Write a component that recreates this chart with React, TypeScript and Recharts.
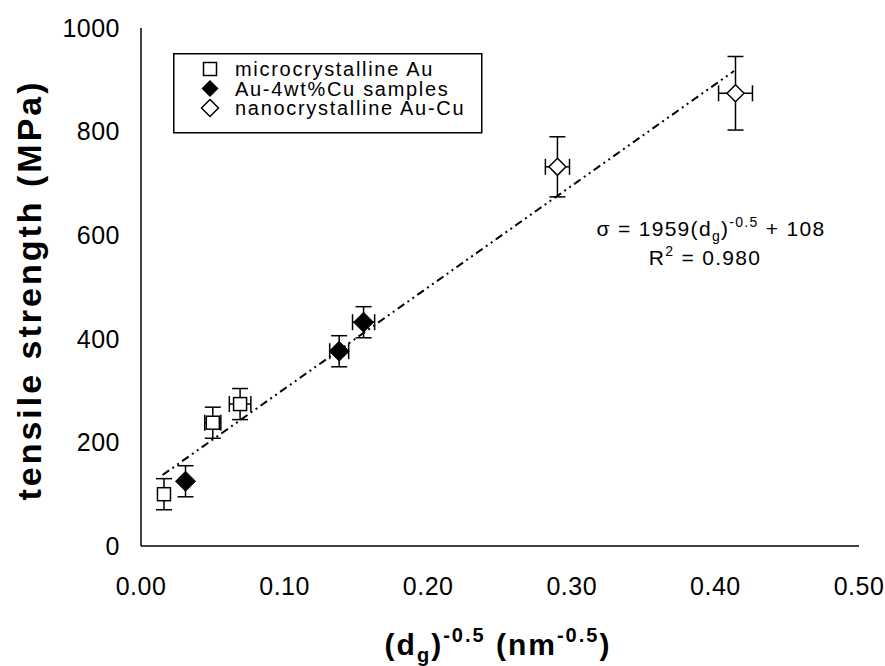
import React from 'react';
import { ScatterChart, Scatter, XAxis, YAxis, ErrorBar, Legend, Customized } from 'recharts';

// tensile strength vs (d_g)^-0.5 ; ex / ey are half-widths of the error bars
const microAu = [
  { x: 0.016, y: 100, ex: 0, ey: 30 },
  { x: 0.05, y: 238, ex: 0.0056, ey: 30 },
  { x: 0.069, y: 274, ex: 0.0075, ey: 30 },
];
const auCuSamples = [
  { x: 0.031, y: 125, ex: 0, ey: 30 },
  { x: 0.138, y: 376, ex: 0.0066, ey: 30 },
  { x: 0.155, y: 432, ex: 0.0077, ey: 30 },
];
const nanoAuCu = [
  { x: 0.29, y: 732, ex: 0.0084, ey: 58 },
  { x: 0.414, y: 874, ex: 0.0118, ey: 71 },
];
// ends of the Hall-Petch fit line as drawn
const fitLine = [
  { x: 0.015, y: 137 },
  { x: 0.413, y: 917 },
];
const seriesNames = ['microcrystalline Au', 'Au-4wt%Cu samples', 'nanocrystalline Au-Cu'];

const xTicks = [0, 0.1, 0.2, 0.3, 0.4, 0.5];
const yTicks = [0, 200, 400, 600, 800, 1000];
const xMinor = Array.from({ length: 26 }, (_, i) => i * 0.02);
const yMinor = Array.from({ length: 51 }, (_, i) => i * 20);

const FONT = '"Liberation Sans", Arial, sans-serif';
const W = 885;
const H = 666;

const SquareMark = (p: any) => (
  <rect x={p.cx - 6.5} y={p.cy - 6.5} width={13} height={13} fill="#fff" stroke="#000" strokeWidth={1.5} />
);
const diamondPath = (cx: number, cy: number, r: number) =>
  `M${cx},${cy - r}L${cx + r},${cy}L${cx},${cy + r}L${cx - r},${cy}Z`;
const FilledDiamond = (p: any) => <path d={diamondPath(p.cx, p.cy, 10)} fill="#000" stroke="#000" />;
const OpenDiamond = (p: any) => (
  <path d={diamondPath(p.cx, p.cy, 8.5)} fill="#fff" stroke="#000" strokeWidth={1.5} />
);
const NoMark = () => <g />;

const legendIcons: Record<string, (cx: number, cy: number) => React.ReactNode> = {
  [seriesNames[0]]: (cx, cy) => <SquareMark cx={cx} cy={cy} />,
  [seriesNames[1]]: (cx, cy) => <path d={diamondPath(cx, cy, 8.5)} fill="#000" />,
  [seriesNames[2]]: (cx, cy) => <OpenDiamond cx={cx} cy={cy} />,
};

function LegendBox({ payload }: any) {
  const items = (payload || [])
    .filter((p: any) => legendIcons[p.value])
    .sort((a: any, b: any) => seriesNames.indexOf(a.value) - seriesNames.indexOf(b.value));
  return (
    <svg width={310} height={81} style={{ display: 'block' }}>
      <rect x={0.75} y={0.75} width={308} height={79} fill="#fff" stroke="#000" strokeWidth={1.5} />
      {items.map((p: any, i: number) => (
        <g key={p.value}>
          {legendIcons[p.value](37, 16 + i * 19.5)}
          <text
            x={62}
            y={16 + i * 19.5}
            dy="0.36em"
            fontSize={20}
            fontFamily={FONT}
            letterSpacing={1.7}
            fill="#000"
          >
            {p.value}
          </text>
        </g>
      ))}
    </svg>
  );
}

function Titles() {
  return (
    <g fontFamily={FONT} fill="#000">
      <text
        transform="translate(29,290) rotate(-90)"
        textAnchor="middle"
        dominantBaseline="central"
        fontSize={34}
        fontWeight="bold"
        letterSpacing={3}
      >
        tensile strength (MPa)
      </text>
      <text x={498} y={655} textAnchor="middle" fontSize={30} fontWeight="bold" letterSpacing={2}>
        (d<tspan fontSize={20} dy={7}>g</tspan>
        <tspan dy={-7}>)</tspan>
        <tspan fontSize={20} dy={-13}>-0.5</tspan>
        <tspan dy={13}> (nm</tspan>
        <tspan fontSize={20} dy={-13}>-0.5</tspan>
        <tspan dy={13}>)</tspan>
      </text>
      <text x={711} y={236} textAnchor="middle" fontSize={21} letterSpacing={1.3}>
        σ = 1959(d<tspan fontSize={14} dy={5}>g</tspan>
        <tspan dy={-5}>)</tspan>
        <tspan fontSize={14} dy={-9}>-0.5</tspan>
        <tspan dy={9}> + 108</tspan>
      </text>
      <text x={705} y={265} textAnchor="middle" fontSize={21} letterSpacing={1.3}>
        R<tspan fontSize={14} dy={-9}>2</tspan>
        <tspan dy={9}> = 0.980</tspan>
      </text>
    </g>
  );
}

const tickStyle = { fontSize: 25, fill: '#000', fontFamily: FONT, letterSpacing: 0.5 };
const axisStroke = { stroke: '#000', strokeWidth: 1.5 };

export default function App() {
  return (
    <div style={{ position: 'absolute', left: 0, top: 0, background: '#fff', fontFamily: FONT }}>
      <ScatterChart width={W} height={H} margin={{ top: 28, right: 26, left: 0, bottom: 0 }}>
        {/* inward minor / major tick marks */}
        <XAxis xAxisId="minor" type="number" dataKey="x" domain={[0, 0.5]} ticks={xMinor} height={0}
          tick={false} axisLine={false} tickSize={-6} tickLine={{ stroke: '#000', strokeWidth: 1 }} />
        <XAxis xAxisId="major" type="number" dataKey="x" domain={[0, 0.5]} ticks={xTicks} height={0}
          tick={false} axisLine={false} tickSize={-9} tickLine={{ stroke: '#000', strokeWidth: 1.2 }} />
        <XAxis xAxisId="top" orientation="top" type="number" dataKey="x" domain={[0, 0.5]} height={0}
          tick={false} tickLine={false} axisLine={axisStroke} />
        <XAxis xAxisId={0} type="number" dataKey="x" domain={[0, 0.5]} ticks={xTicks} height={120}
          tickFormatter={(v: number) => v.toFixed(2)} tick={tickStyle} tickLine={false} tickSize={0}
          tickMargin={31} axisLine={axisStroke} interval={0} />
        <YAxis yAxisId="minor" type="number" dataKey="y" domain={[0, 1000]} ticks={yMinor} width={0}
          tick={false} axisLine={false} tickSize={-6} tickLine={{ stroke: '#000', strokeWidth: 1 }} />
        <YAxis yAxisId="major" type="number" dataKey="y" domain={[0, 1000]} ticks={yTicks} width={0}
          tick={false} axisLine={false} tickSize={-9} tickLine={{ stroke: '#000', strokeWidth: 1.2 }} />
        <YAxis yAxisId="right" orientation="right" type="number" dataKey="y" domain={[0, 1000]} width={0}
          tick={false} tickLine={false} axisLine={axisStroke} />
        <YAxis yAxisId={0} type="number" dataKey="y" domain={[0, 1000]} ticks={yTicks} width={141}
          tick={tickStyle} tickLine={false} tickSize={0} tickMargin={21} axisLine={axisStroke} interval={0} />
        <Legend
          layout="horizontal"
          verticalAlign="middle"
          align="center"
          content={LegendBox}
          wrapperStyle={{ position: 'absolute', left: 173, top: 53, width: 310, height: 81 }}
        />
        <Scatter
          name="fit"
          data={fitLine}
          legendType="none"
          shape={NoMark}
          line={{ stroke: '#000', strokeWidth: 2, strokeDasharray: '8 4 2 4 2 4' }}
          isAnimationActive={false}
        />
        <Scatter name={seriesNames[0]} data={microAu} shape={SquareMark} isAnimationActive={false}>
          <ErrorBar dataKey="ey" direction="y" width={8} stroke="#000" strokeWidth={1.5} isAnimationActive={false} />
          <ErrorBar dataKey="ex" direction="x" width={8} stroke="#000" strokeWidth={1.5} isAnimationActive={false} />
        </Scatter>
        <Scatter name={seriesNames[1]} data={auCuSamples} shape={FilledDiamond} isAnimationActive={false}>
          <ErrorBar dataKey="ey" direction="y" width={8} stroke="#000" strokeWidth={1.5} isAnimationActive={false} />
          <ErrorBar dataKey="ex" direction="x" width={8} stroke="#000" strokeWidth={1.5} isAnimationActive={false} />
        </Scatter>
        <Scatter name={seriesNames[2]} data={nanoAuCu} shape={OpenDiamond} isAnimationActive={false}>
          <ErrorBar dataKey="ey" direction="y" width={8} stroke="#000" strokeWidth={1.5} isAnimationActive={false} />
          <ErrorBar dataKey="ex" direction="x" width={8} stroke="#000" strokeWidth={1.5} isAnimationActive={false} />
        </Scatter>
        <Customized component={Titles} />
      </ScatterChart>
    </div>
  );
}
